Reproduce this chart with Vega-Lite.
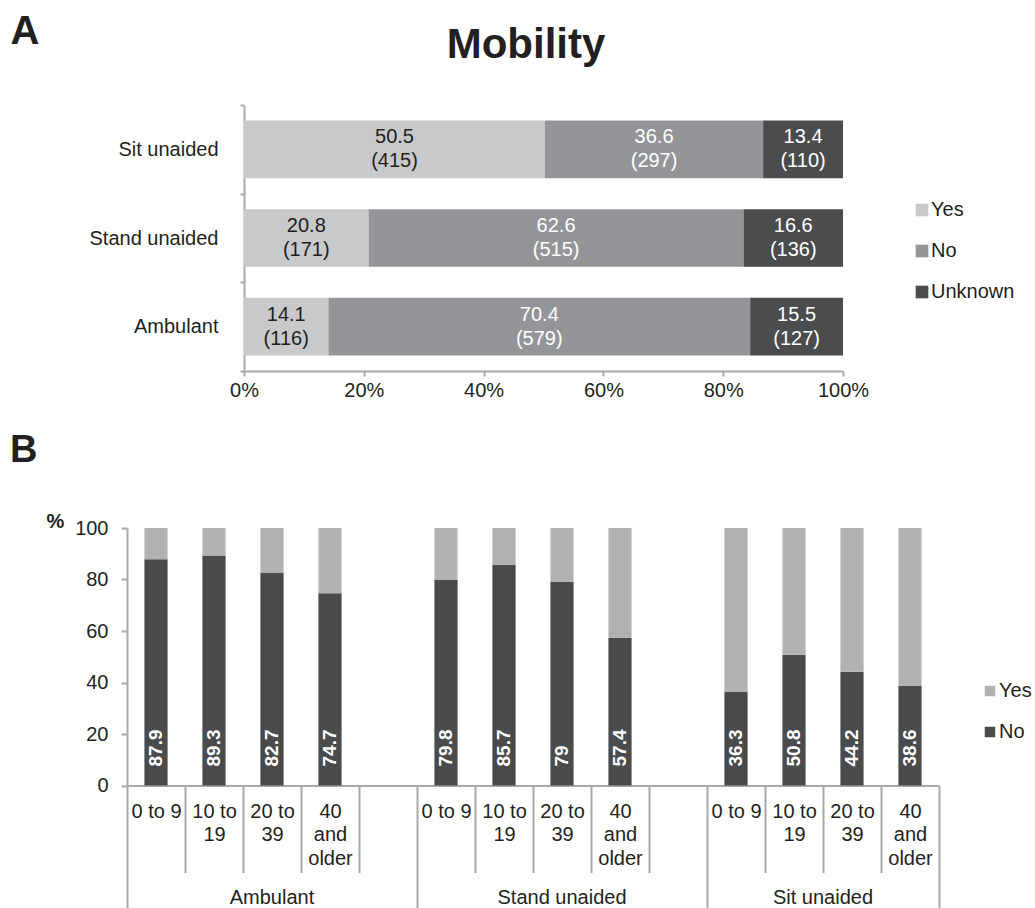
{
  "$schema": "https://vega.github.io/schema/vega-lite/v6.json",
  "background": "white",
  "padding": {"left": 10, "top": 11, "right": 0, "bottom": 0},
  "config": {
    "font": "Liberation Sans",
    "view": {"stroke": null},
    "axis": {
      "domainColor": "#a7a9ac",
      "domainWidth": 2,
      "tickColor": "#a7a9ac",
      "tickWidth": 2,
      "labelColor": "#231f20",
      "labelFontSize": 20,
      "titleColor": "#231f20",
      "grid": false
    },
    "legend": {
      "labelColor": "#231f20",
      "labelFontSize": 20,
      "symbolType": "square",
      "symbolStrokeWidth": 0,
      "padding": 0,
      "rowPadding": 21,
      "labelOffset": -1
    }
  },
  "datasets": {
    "mobility": [
      {"item": "Sit unaided", "answer": "Yes", "pct": 50.5, "n": 415},
      {"item": "Sit unaided", "answer": "No", "pct": 36.6, "n": 297},
      {"item": "Sit unaided", "answer": "Unknown", "pct": 13.4, "n": 110},
      {"item": "Stand unaided", "answer": "Yes", "pct": 20.8, "n": 171},
      {"item": "Stand unaided", "answer": "No", "pct": 62.6, "n": 515},
      {"item": "Stand unaided", "answer": "Unknown", "pct": 16.6, "n": 136},
      {"item": "Ambulant", "answer": "Yes", "pct": 14.1, "n": 116},
      {"item": "Ambulant", "answer": "No", "pct": 70.4, "n": 579},
      {"item": "Ambulant", "answer": "Unknown", "pct": 15.5, "n": 127}
    ],
    "byAge": [
      {"mobility": "Ambulant", "age": "0 to 9", "answer": "No", "pct": 87.9},
      {"mobility": "Ambulant", "age": "0 to 9", "answer": "Yes", "pct": 12.1},
      {"mobility": "Ambulant", "age": "10 to 19", "answer": "No", "pct": 89.3},
      {"mobility": "Ambulant", "age": "10 to 19", "answer": "Yes", "pct": 10.7},
      {"mobility": "Ambulant", "age": "20 to 39", "answer": "No", "pct": 82.7},
      {"mobility": "Ambulant", "age": "20 to 39", "answer": "Yes", "pct": 17.3},
      {"mobility": "Ambulant", "age": "40 and older", "answer": "No", "pct": 74.7},
      {"mobility": "Ambulant", "age": "40 and older", "answer": "Yes", "pct": 25.3},
      {"mobility": "Stand unaided", "age": "0 to 9", "answer": "No", "pct": 79.8},
      {"mobility": "Stand unaided", "age": "0 to 9", "answer": "Yes", "pct": 20.2},
      {"mobility": "Stand unaided", "age": "10 to 19", "answer": "No", "pct": 85.7},
      {"mobility": "Stand unaided", "age": "10 to 19", "answer": "Yes", "pct": 14.3},
      {"mobility": "Stand unaided", "age": "20 to 39", "answer": "No", "pct": 79},
      {"mobility": "Stand unaided", "age": "20 to 39", "answer": "Yes", "pct": 21},
      {"mobility": "Stand unaided", "age": "40 and older", "answer": "No", "pct": 57.4},
      {"mobility": "Stand unaided", "age": "40 and older", "answer": "Yes", "pct": 42.6},
      {"mobility": "Sit unaided", "age": "0 to 9", "answer": "No", "pct": 36.3},
      {"mobility": "Sit unaided", "age": "0 to 9", "answer": "Yes", "pct": 63.7},
      {"mobility": "Sit unaided", "age": "10 to 19", "answer": "No", "pct": 50.8},
      {"mobility": "Sit unaided", "age": "10 to 19", "answer": "Yes", "pct": 49.2},
      {"mobility": "Sit unaided", "age": "20 to 39", "answer": "No", "pct": 44.2},
      {"mobility": "Sit unaided", "age": "20 to 39", "answer": "Yes", "pct": 55.8},
      {"mobility": "Sit unaided", "age": "40 and older", "answer": "No", "pct": 38.6},
      {"mobility": "Sit unaided", "age": "40 and older", "answer": "Yes", "pct": 61.4}
    ]
  },
  "spacing": 32,
  "resolve": {"scale": {"color": "independent"}, "legend": {"color": "independent"}},
  "vconcat": [
    {
      "width": 716,
      "height": 266,
      "title": {
        "text": "Mobility",
        "fontSize": 42,
        "fontWeight": "bold",
        "color": "#231f20",
        "anchor": "middle",
        "frame": "group",
        "baseline": "alphabetic",
        "offset": -41,
        "dx": 41,
        "dy": 48
      },
      "data": {"name": "mobility"},
      "transform": [
        {"calculate": "indexof(['Yes', 'No', 'Unknown'], datum.answer)", "as": "rank"},
        {"stack": "pct", "groupby": ["item"], "sort": [{"field": "rank", "order": "ascending"}], "offset": "normalize", "as": ["start", "end"]},
        {"calculate": "(datum.start + datum.end) / 2", "as": "mid"},
        {"calculate": "[format(datum.pct, '.1f'), '(' + datum.n + ')']", "as": "label"}
      ],
      "encoding": {
        "y": {
          "field": "item",
          "type": "nominal",
          "sort": ["Sit unaided", "Stand unaided", "Ambulant"],
          "scale": {"paddingInner": 0, "paddingOuter": 0},
          "axis": {
            "title": "A",
            "titleAngle": 0,
            "titleAlign": "left",
            "titleBaseline": "alphabetic",
            "titleX": -234,
            "titleY": -62,
            "titleFontSize": 40,
            "titleFontWeight": "bold",
            "offset": -117,
            "tickBand": "extent",
            "tickSize": 4,
            "labelPadding": 22
          }
        }
      },
      "layer": [
        {
          "mark": {"type": "bar", "height": {"band": 0.65}},
          "encoding": {
            "x": {
              "field": "start",
              "type": "quantitative",
              "scale": {"domain": [0, 1], "range": [117, 716], "nice": false},
              "axis": {
                "title": null,
                "format": ".0%",
                "values": [0, 0.2, 0.4, 0.6, 0.8, 1],
                "tickSize": 5,
                "labelPadding": 4,
                "labelFlush": false,
                "labelOverlap": false
              }
            },
            "x2": {"field": "end"},
            "color": {
              "field": "answer",
              "type": "nominal",
              "scale": {"domain": ["Yes", "No", "Unknown"], "range": ["#c8c9cb", "#939598", "#4b4c4e"]},
              "legend": {"title": null, "orient": "none", "legendX": 785, "legendY": 95, "symbolSize": 160}
            }
          }
        },
        {
          "mark": {"type": "text", "fontSize": 20, "lineHeight": 24, "baseline": "middle", "dy": -12},
          "encoding": {
            "x": {"field": "mid", "type": "quantitative"},
            "text": {"field": "label"},
            "color": {"condition": {"test": "datum.answer === 'Yes'", "value": "#231f20"}, "value": "#ffffff"}
          }
        }
      ]
    },
    {
      "width": 812,
      "height": 257.5,
      "title": {
        "text": "B",
        "fontSize": 38,
        "fontWeight": "bold",
        "color": "#231f20",
        "anchor": "start",
        "frame": "group",
        "baseline": "alphabetic",
        "offset": 11,
        "dx": -117
      },
      "layer": [
        {
          "data": {"name": "byAge"},
          "transform": [
            {"calculate": "datum.mobility + '|' + datum.age", "as": "slot"},
            {"calculate": "indexof(['No', 'Yes'], datum.answer)", "as": "rank"}
          ],
          "mark": {"type": "bar", "width": {"band": 0.4}},
          "encoding": {
            "x": {
              "field": "slot",
              "type": "nominal",
              "scale": {
                "domain": [
                  "Ambulant|0 to 9", "Ambulant|10 to 19", "Ambulant|20 to 39", "Ambulant|40 and older", "Ambulant|",
                  "Stand unaided|0 to 9", "Stand unaided|10 to 19", "Stand unaided|20 to 39", "Stand unaided|40 and older", "Stand unaided|",
                  "Sit unaided|0 to 9", "Sit unaided|10 to 19", "Sit unaided|20 to 39", "Sit unaided|40 and older"
                ],
                "paddingInner": 0,
                "paddingOuter": 0
              },
              "axis": {
                "title": null,
                "tickBand": "extent",
                "tickSize": {
                  "condition": {"test": "datum.extra || indexof(['Ambulant|', 'Stand unaided|', 'Sit unaided|40 and older'], datum.value) >= 0", "value": 123},
                  "value": 87
                },
                "labelPadding": {
                  "condition": {"test": "datum.extra || indexof(['Ambulant|', 'Stand unaided|', 'Sit unaided|40 and older'], datum.value) >= 0", "value": -107.5},
                  "value": -71.5
                },
                "labelExpr": "!isString(datum.value) ? '' : split(datum.value, '|')[1] === '10 to 19' ? ['10 to', '19'] : split(datum.value, '|')[1] === '20 to 39' ? ['20 to', '39'] : split(datum.value, '|')[1] === '40 and older' ? ['40', 'and', 'older'] : split(datum.value, '|')[1]",
                "labelAngle": 0,
                "labelLineHeight": 23.5
              }
            },
            "y": {
              "field": "pct",
              "type": "quantitative",
              "stack": "zero",
              "scale": {"domain": [0, 100], "nice": false},
              "axis": {
                "title": "%",
                "titleAngle": 0,
                "titleAlign": "left",
                "titleBaseline": "alphabetic",
                "titleX": -81,
                "titleY": -1,
                "titleFontSize": 20,
                "titleFontWeight": "bold",
                "values": [0, 20, 40, 60, 80, 100],
                "tickSize": 6,
                "labelPadding": 13
              }
            },
            "order": {"field": "rank", "type": "quantitative"},
            "color": {
              "field": "answer",
              "type": "nominal",
              "scale": {"domain": ["Yes", "No"], "range": ["#b1b2b4", "#4a4b4d"]},
              "legend": {"title": null, "orient": "none", "legendX": 853, "legendY": 153, "symbolSize": 110}
            }
          }
        },
        {
          "data": {"name": "byAge"},
          "transform": [
            {"filter": "datum.answer === 'No'"},
            {"calculate": "datum.mobility + '|' + datum.age", "as": "slot"}
          ],
          "mark": {"type": "text", "angle": 270, "align": "left", "baseline": "middle", "dx": 19, "fontSize": 19, "fontWeight": "bold", "color": "#ffffff"},
          "encoding": {
            "x": {"field": "slot", "type": "nominal"},
            "y": {"datum": 0, "type": "quantitative"},
            "text": {"field": "pct", "type": "quantitative"}
          }
        },
        {
          "data": {"values": [
            {"mobility": "Ambulant", "slot": "Ambulant|20 to 39"},
            {"mobility": "Stand unaided", "slot": "Stand unaided|20 to 39"}
          ]},
          "mark": {"type": "text", "fontSize": 20, "color": "#231f20", "baseline": "middle"},
          "encoding": {
            "x": {"field": "slot", "type": "nominal"},
            "y": {"datum": -43.8, "type": "quantitative"},
            "text": {"field": "mobility"}
          }
        },
        {
          "data": {"values": [
            {"mobility": "Sit unaided", "slot": "Sit unaided|20 to 39"}
          ]},
          "mark": {"type": "text", "fontSize": 20, "color": "#231f20", "baseline": "middle"},
          "encoding": {
            "x": {"field": "slot", "type": "nominal", "bandPosition": 0},
            "y": {"datum": -43.8, "type": "quantitative"},
            "text": {"field": "mobility"}
          }
        }
      ]
    }
  ]
}
